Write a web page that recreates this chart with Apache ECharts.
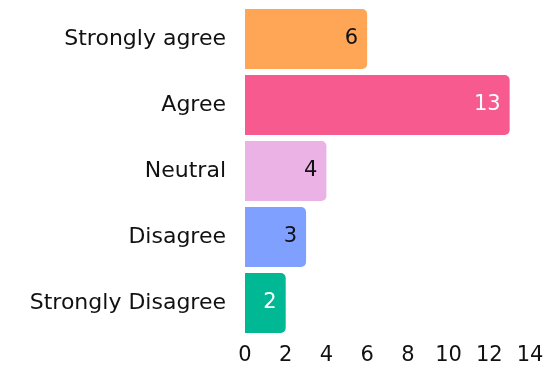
<!DOCTYPE html>
<html>
<head>
<meta charset="utf-8">
<script src="https://cdn.jsdelivr.net/npm/echarts@6/dist/echarts.min.js"></script>
<style>
  html, body { margin: 0; padding: 0; background: #fff; }
  #chart { width: 548px; height: 369px; }
</style>
</head>
<body>
<div id="chart"></div>
<script>
// Survey responses, listed top to bottom
const categories = ['Strongly agree', 'Agree', 'Neutral', 'Disagree', 'Strongly Disagree'];
const counts = [6, 13, 4, 3, 2];
const barColors = ['#FFA556', '#F75A8F', '#EBB2E6', '#7FA0FF', '#00B894'];
const labelColors = ['#111', '#fff', '#111', '#111', '#fff'];
const xTicks = [0, 2, 4, 6, 8, 10, 12, 14];

const fontFamily = '"DejaVu Sans", sans-serif';

const chart = echarts.init(document.getElementById('chart'), null, { renderer: 'canvas' });
chart.setOption({
  animation: false,
  grid: { left: 245, right: 18, top: 6, bottom: 33, containLabel: false },
  xAxis: {
    type: 'value',
    min: xTicks[0],
    max: xTicks[xTicks.length - 1],
    interval: 2,
    axisLine: { show: false },
    axisTick: { show: false },
    splitLine: { show: false },
    axisLabel: { color: '#111', fontSize: 21, fontFamily: fontFamily, margin: 9 }
  },
  yAxis: {
    type: 'category',
    data: categories,
    inverse: true,
    axisLine: { show: false },
    axisTick: { show: false },
    axisLabel: { color: '#111', fontSize: 22, fontFamily: fontFamily, margin: 19 }
  },
  series: [{
    type: 'bar',
    barCategoryGap: '9%',
    data: counts.map((v, i) => ({
      value: v,
      itemStyle: { color: barColors[i], borderRadius: [0, 5, 5, 0] },
      label: { color: labelColors[i] }
    })),
    label: {
      show: true,
      position: 'insideRight',
      distance: 9,
      fontSize: 21,
      fontFamily: fontFamily
    }
  }]
});
</script>
</body>
</html>
